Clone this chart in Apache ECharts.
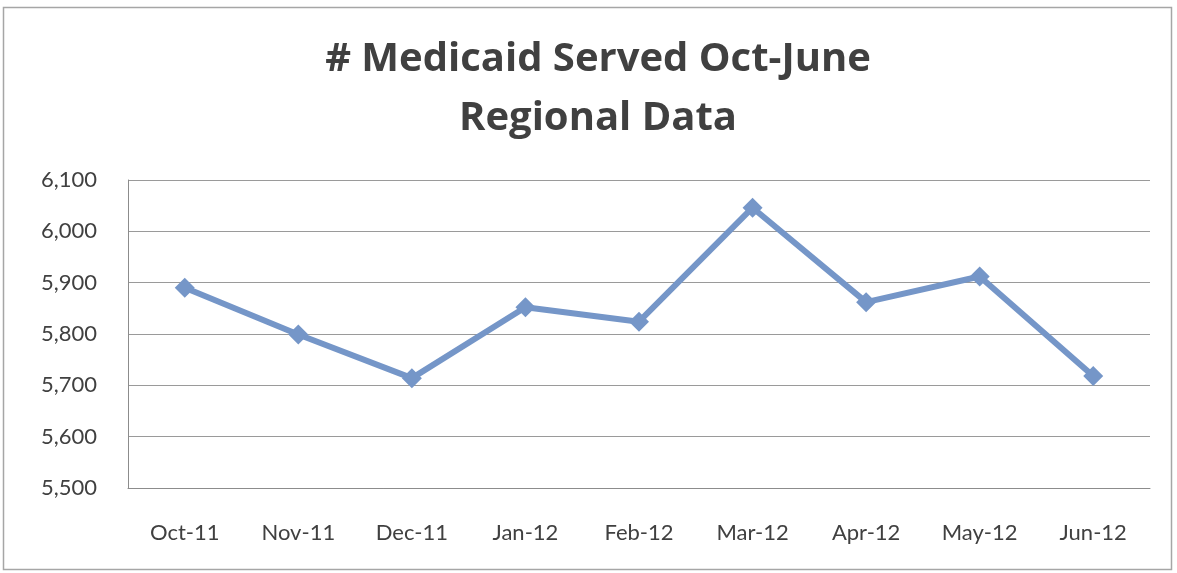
<!DOCTYPE html>
<html>
<head>
<meta charset="utf-8">
<script src="https://cdn.jsdelivr.net/npm/echarts@6/dist/echarts.min.js"></script>
<style>
  html, body { margin: 0; padding: 0; background: #fff; }
  #chart { width: 1177px; height: 573px; }
</style>
</head>
<body>
<div id="chart"></div>
<script>
// Monthly Medicaid counts, Oct 2011 – Jun 2012
const months = ['Oct-11', 'Nov-11', 'Dec-11', 'Jan-12', 'Feb-12', 'Mar-12', 'Apr-12', 'May-12', 'Jun-12'];
const served = [5890, 5799, 5714, 5852, 5824, 6046, 5862, 5912, 5718];
const titleLines = ['# Medicaid Served Oct-June', 'Regional Data'];

const lineColor = '#7596c8';
const textColor = '#404040';
const font = 'Lato, "Open Sans", sans-serif';

const chart = echarts.init(document.getElementById('chart'));
chart.setOption({
  backgroundColor: '#ffffff',
  animation: false,
  title: {
    text: titleLines.join('\n'),
    top: 25,
    left: 593,
    textAlign: 'center',
    textStyle: {
      fontFamily: '"Open Sans", Lato, sans-serif',
      fontWeight: 'bold',
      fontSize: 40,
      lineHeight: 59,
      color: textColor
    }
  },
  graphic: [{
    type: 'rect',
    shape: { x: 3.5, y: 7.5, width: 1168, height: 562 },
    style: { fill: 'none', stroke: '#a6a6a6', lineWidth: 1.5 },
    silent: true
  }],
  grid: { left: 128, right: 27, top: 180, bottom: 85 },
  xAxis: {
    type: 'category',
    data: months,
    boundaryGap: true,
    axisLine: { show: true, lineStyle: { color: '#8c8c8c', width: 1 } },
    axisTick: { show: false },
    axisLabel: { color: textColor, fontFamily: font, fontSize: 22, margin: 34 }
  },
  yAxis: {
    type: 'value',
    min: 5500,
    max: 6100,
    interval: 100,
    axisLine: { show: true, lineStyle: { color: '#8c8c8c', width: 1 } },
    axisTick: { show: false },
    axisLabel: {
      color: textColor,
      fontFamily: font,
      fontSize: 22,
      margin: 31,
      formatter: v => v.toLocaleString('en-US')
    },
    splitLine: { lineStyle: { color: '#9a9a9a', width: 1.2 } }
  },
  series: [{
    type: 'line',
    data: served,
    symbol: 'diamond',
    symbolSize: 20,
    lineStyle: { color: lineColor, width: 6 },
    itemStyle: { color: lineColor }
  }]
});
</script>
</body>
</html>
